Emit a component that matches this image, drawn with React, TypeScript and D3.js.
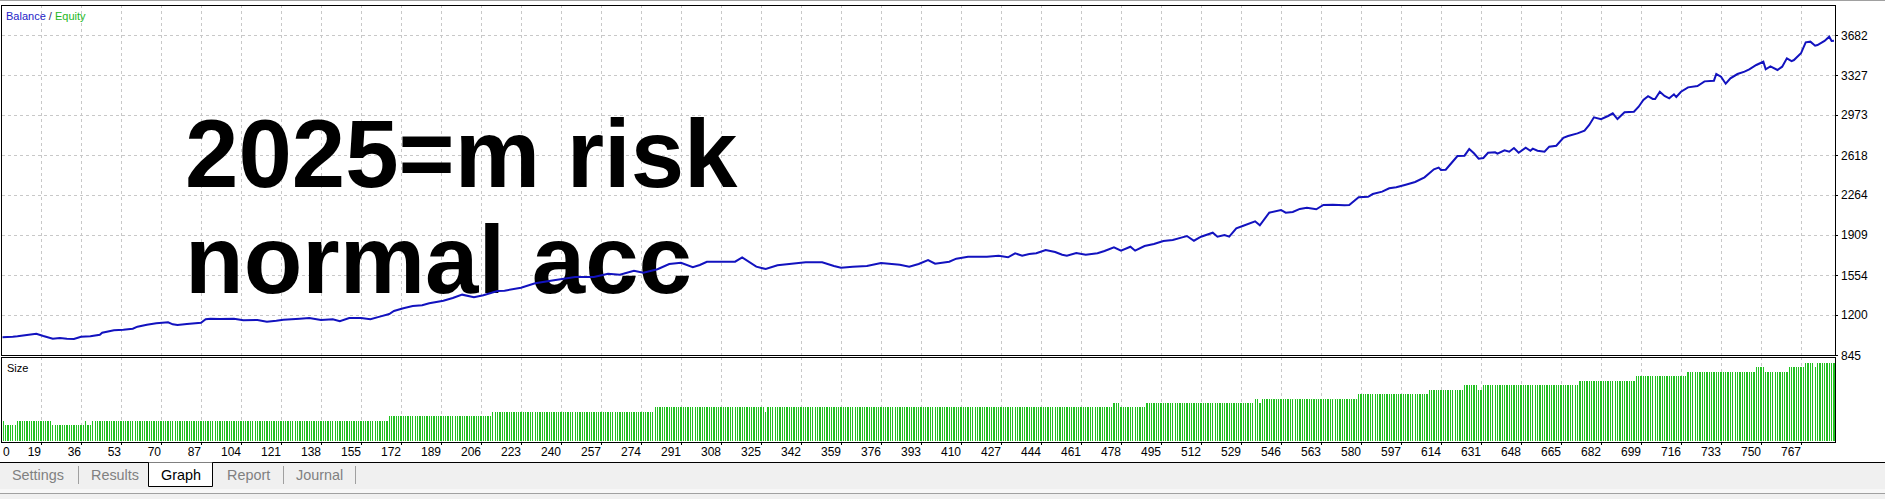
import { useEffect } from 'react'
import * as d3 from 'd3'

// balance curve (trade number -> balance)
const balanceTrade = [
    0, 7, 9, 13, 17, 20, 24, 27, 30, 33, 36, 40, 44, 45, 50, 54, 58, 60, 64, 68,
    73, 75, 77, 81, 87, 89, 91, 95, 101, 105, 111, 115, 119, 122, 129, 133, 138, 143, 146, 150,
    155, 159, 163, 167, 169, 173, 177, 181, 184, 190, 194, 198, 203, 207, 213, 216, 223, 229, 237, 246,
    254, 260, 265, 271, 275, 281, 286, 291, 296, 299, 302, 309, 314, 317, 323, 327, 332, 338, 344, 351,
    356, 359, 364, 370, 376, 384, 388, 392, 396, 399, 405, 408, 413, 421, 426, 430, 433, 436, 439, 442,
    446, 450, 453, 455, 459, 463, 468, 471, 475, 478, 482, 484, 488, 492, 496, 500, 504, 506, 509, 512,
    517, 519, 522, 524, 527, 530, 535, 537, 541, 546, 548, 551, 554, 557, 561, 564, 568, 573, 575, 579,
    583, 585, 589, 592, 595, 599, 603, 607, 611, 613, 614, 616, 618, 621, 624, 626, 628, 630, 632, 634,
    637, 638, 641, 643, 645, 647, 650, 652, 653, 655, 658, 660, 663, 666, 668, 672, 675, 677, 679, 682,
    685, 687, 689, 692, 696, 698, 700, 702, 704, 705, 707, 709, 711, 713, 714, 716, 719, 723, 726, 730,
    731, 733, 735, 737, 740, 743, 745, 748, 751, 752, 754, 757, 759, 761, 763, 764, 767, 769, 771, 773,
    774, 777, 779, 780, 781,
]
const balanceValue = [
    1000, 1007, 1011, 1022, 1034, 1014, 990, 996, 990, 987, 1007, 1011, 1025, 1043, 1064, 1069, 1078, 1096, 1114, 1126,
    1135, 1117, 1111, 1120, 1131, 1162, 1167, 1164, 1167, 1153, 1155, 1140, 1149, 1158, 1167, 1173, 1155, 1162, 1144, 1173,
    1173, 1162, 1185, 1208, 1235, 1259, 1279, 1286, 1303, 1326, 1350, 1380, 1357, 1374, 1412, 1415, 1442, 1481, 1507, 1537,
    1537, 1566, 1557, 1592, 1575, 1605, 1652, 1663, 1623, 1643, 1672, 1672, 1672, 1711, 1628, 1607, 1640, 1654, 1667, 1667,
    1634, 1619, 1628, 1634, 1661, 1646, 1628, 1652, 1687, 1654, 1672, 1699, 1716, 1716, 1725, 1711, 1747, 1725, 1740, 1747,
    1776, 1758, 1734, 1725, 1749, 1734, 1747, 1767, 1800, 1770, 1805, 1770, 1811, 1829, 1856, 1865, 1888, 1900, 1858, 1894,
    1929, 1894, 1909, 1894, 1968, 1991, 2030, 1995, 2107, 2131, 2107, 2113, 2140, 2151, 2137, 2175, 2178, 2172, 2175, 2243,
    2248, 2272, 2293, 2323, 2332, 2355, 2379, 2420, 2491, 2506, 2485, 2488, 2536, 2609, 2612, 2671, 2633, 2585, 2592, 2638,
    2642, 2630, 2660, 2647, 2680, 2638, 2683, 2656, 2674, 2656, 2647, 2692, 2700, 2771, 2786, 2810, 2834, 2884, 2952, 2935,
    2964, 2988, 2937, 2997, 3002, 3046, 3106, 3139, 3115, 3115, 3179, 3141, 3121, 3156, 3132, 3179, 3218, 3230, 3271, 3277,
    3336, 3312, 3250, 3298, 3336, 3357, 3378, 3416, 3445, 3378, 3404, 3372, 3401, 3475, 3451, 3460, 3520, 3617, 3623, 3587,
    3593, 3629, 3667, 3629, 3632,
]

// position size, as runs: from trade lotStart[k] on, the size is lotSize[k]
const lotStart = [0, 4, 9, 24, 38, 39, 41, 167, 211, 280, 327, 328, 475, 478, 489, 535, 537, 538, 579, 609, 624, 630, 632, 673, 697, 719, 748, 752, 762, 769, 773, 774]
const lotSize = [0.05, 0.04, 0.05, 0.04, 0.05, 0.04, 0.05, 0.06, 0.07, 0.08, 0.07, 0.08, 0.09, 0.08, 0.09, 0.10, 0.09, 0.10, 0.11, 0.12, 0.13, 0.12, 0.13, 0.14, 0.15, 0.16, 0.17, 0.16, 0.17, 0.18, 0.17, 0.18]
const lastTrade = 781

const balanceTicks = [845, 1200, 1554, 1909, 2264, 2618, 2973, 3327, 3682]
const tradeTicks = [
    19, 36, 53, 70, 87, 104, 121, 138, 155, 172, 189, 206, 223, 240, 257, 274, 291, 308, 325, 342, 359, 376, 393,
    410, 427, 444, 461, 478, 495, 512, 529, 546, 563, 580, 597, 614, 631, 648, 665, 682, 699, 716, 733, 750, 767,
]
const titleLines = ['2025=m risk', 'normal acc']
const tabNames = ['Settings', 'Results', 'Graph', 'Report', 'Journal']

const W = 1885
const H = 499
const left = 2
const right = 1835
const mainTop = 5
const mainBottom = 355
const subTop = 357
const subBottom = 442
const tabX = [12, 91, 161, 227, 296]
const tabSeparators = [78, 283, 355]

const BLUE = '#1212bf'
const GREEN = '#22c222'
const GRID = '#c8c8c8'
const FONT = 'Liberation Sans, Arial, sans-serif'

export default function App() {
    useEffect(() => {
        document.body.style.margin = '0'
    }, [])

    const x = d3.scaleLinear().domain([19, 767]).range([41, 1801])
    const y = d3.scaleLinear().domain([845, 3682]).range([mainBottom, 35])
    const ySize = d3.scaleLinear().domain([0, 0.2]).range([443, 354])

    const balance = balanceTrade.map((t, i) => [t, balanceValue[i]] as [number, number])
    const linePath = d3.line<[number, number]>()
        .x(d => x(d[0]))
        .y(d => y(d[1]))(balance) ?? ''

    const bars: { t: number; lot: number }[] = []
    for (let t = 0; t <= lastTrade; t++) {
        const k = d3.bisectRight(lotStart, t) - 1
        bars.push({ t, lot: lotSize[k] })
    }

    return (
        <svg width={W} height={H} style={{ display: 'block' }} fontFamily={FONT}>
            <defs>
                <clipPath id="mainClip">
                    <rect x={left + 0.5} y={mainTop + 1} width={right - left - 0.5} height={mainBottom - mainTop - 1} />
                </clipPath>
                <clipPath id="subClip">
                    <rect x={left + 0.5} y={subTop + 1} width={right - left - 0.5} height={subBottom - subTop - 1} />
                </clipPath>
            </defs>
            <rect x={0} y={0} width={W} height={H} fill="#ffffff" />
            <line x1={0} x2={W} y1={0.5} y2={0.5} stroke="#a0a0a0" />

            {/* grid, main panel */}
            <g stroke={GRID} strokeDasharray="3,3" shapeRendering="crispEdges">
                {balanceTicks.filter(v => v !== 845).map(v => (
                    <line key={'h' + v} x1={left} x2={right} y1={Math.round(y(v)) + 0.5} y2={Math.round(y(v)) + 0.5} />
                ))}
                {tradeTicks.map(t => (
                    <line key={'v' + t} x1={Math.round(x(t)) + 0.5} x2={Math.round(x(t)) + 0.5} y1={mainTop} y2={mainBottom} />
                ))}
                {tradeTicks.map(t => (
                    <line key={'s' + t} x1={Math.round(x(t)) + 0.5} x2={Math.round(x(t)) + 0.5} y1={subTop} y2={subBottom} />
                ))}
            </g>

            {/* big note written on the chart */}
            <g fontWeight="bold" fontSize={96} fill="#000">
                <text x={185} y={187}>{titleLines[0]}</text>
                <text x={185} y={293}>{titleLines[1]}</text>
            </g>

            {/* balance line */}
            <path d={linePath} fill="none" stroke={BLUE} strokeWidth={2} strokeLinejoin="miter" clipPath="url(#mainClip)" />

            {/* size bars */}
            <g fill={GREEN} clipPath="url(#subClip)" shapeRendering="crispEdges">
                {bars.map(b => (
                    <rect key={b.t} x={x(b.t) - 0.6} width={1.3} y={ySize(b.lot)} height={subBottom - 1 - ySize(b.lot)} />
                ))}
            </g>

            {/* frames */}
            <g fill="none" stroke="#000" shapeRendering="crispEdges">
                <rect x={left - 0.5} y={mainTop + 0.5} width={right - left + 0.5} height={mainBottom - mainTop - 0.5} />
                <rect x={left - 0.5} y={subTop + 0.5} width={right - left + 0.5} height={subBottom - subTop - 0.5} />
            </g>

            {/* right axis */}
            <g fontSize={12} fill="#000">
                {balanceTicks.map(v => (
                    <g key={v}>
                        <line x1={right} x2={right + 3} y1={Math.round(y(v)) + 0.5} y2={Math.round(y(v)) + 0.5} stroke="#000" />
                        <text x={right + 6} y={y(v) + 4.5}>{v}</text>
                    </g>
                ))}
            </g>

            {/* bottom axis */}
            <g fontSize={12} fill="#000">
                <text x={3} y={456}>0</text>
                {tradeTicks.map(t => (
                    <g key={t}>
                        <line x1={Math.round(x(t)) + 0.5} x2={Math.round(x(t)) + 0.5} y1={subBottom} y2={subBottom + 3} stroke="#000" />
                        <text x={x(t)} y={456} textAnchor="end">{t}</text>
                    </g>
                ))}
            </g>

            {/* labels */}
            <text x={6} y={20} fontSize={11}>
                <tspan fill="#2424c8">Balance</tspan>
                <tspan fill="#303060"> / </tspan>
                <tspan fill="#22b822">Equity</tspan>
            </text>
            <text x={7} y={372} fontSize={11} fill="#000">Size</text>

            {/* tab strip */}
            <rect x={0} y={463} width={W} height={26} fill="#f0f0f0" />
            <rect x={0} y={489} width={W} height={4} fill="#f7f7f7" />
            <line x1={0} x2={W} y1={493.5} y2={493.5} stroke="#a0a0a0" />
            <rect x={0} y={494} width={W} height={5} fill="#f0f0f0" />
            <line x1={0} x2={W} y1={462.5} y2={462.5} stroke="#000" />
            <path d="M148.5,462.5 V486.5 H212.5 V462.5" fill="#ffffff" stroke="#000" />
            <g stroke="#a0a0a0">
                {tabSeparators.map(s => (
                    <line key={s} x1={s + 0.5} x2={s + 0.5} y1={466} y2={484} />
                ))}
            </g>
            <g fontSize={14.4}>
                {tabNames.map((n, i) => (
                    <text key={n} x={tabX[i]} y={480} fill={n === 'Graph' ? '#000' : '#808080'}>{n}</text>
                ))}
            </g>
        </svg>
    )
}
